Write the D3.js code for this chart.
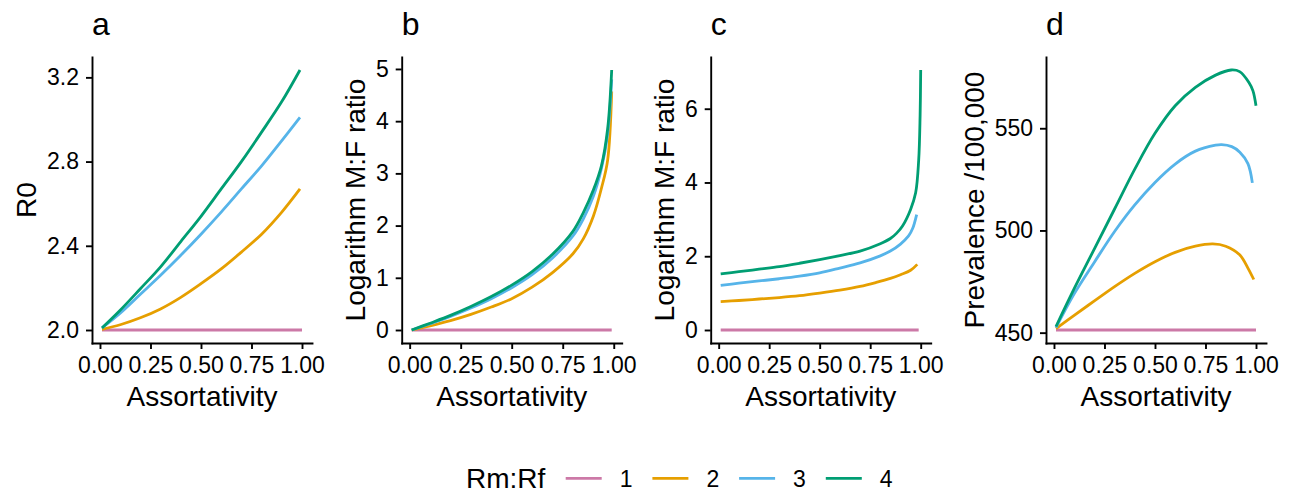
<!DOCTYPE html>
<html lang="en">
<head>
<meta charset="utf-8">
<title>Assortativity panels</title>
<style type="text/css">
  body { margin: 0; background: #fff; }
  svg text { font-family: "Liberation Sans", Arial, Helvetica, sans-serif; fill: #000; }
</style>
</head>
<body>
<svg id="chart" width="1294" height="493"></svg>

<script src="https://cdnjs.cloudflare.com/ajax/libs/d3/7.8.5/d3.min.js"></script>
<script type="text/javascript">
// legend groups and their colours
var groups = ["1", "2", "3", "4"];
var groupColors = ["#CC79A7", "#E69F00", "#56B4E9", "#009E73"];

var panelLetters = ["a", "b", "c", "d"];
var yTitles = ["R0", "Logarithm M:F ratio", "Logarithm M:F ratio", "Prevalence /100,000"];
var xTicks = [0, 0.25, 0.5, 0.75, 1];
var yTicksA = [2.0, 2.4, 2.8, 3.2];
var yTicksB = [0, 1, 2, 3, 4, 5];
var yTicksC = [0, 2, 4, 6];
var yTicksD = [450, 500, 550];

// panel a: R0 vs assortativity, [assortativity, value]
var r0_1 = [[0.01, 2.0], [1.0, 2.0]];
var r0_2 = [[0.01, 2.003], [0.1, 2.025], [0.2, 2.058], [0.3, 2.10], [0.4, 2.155], [0.5, 2.22],
            [0.6, 2.29], [0.7, 2.37], [0.8, 2.455], [0.9, 2.56], [0.99, 2.67]];
var r0_3 = [[0.01, 2.01], [0.1, 2.08], [0.2, 2.17], [0.3, 2.26], [0.4, 2.355], [0.5, 2.455],
            [0.6, 2.56], [0.7, 2.67], [0.8, 2.78], [0.9, 2.90], [0.99, 3.01]];
var r0_4 = [[0.01, 2.01], [0.1, 2.094], [0.2, 2.196], [0.3, 2.30], [0.4, 2.42], [0.5, 2.54],
            [0.6, 2.67], [0.7, 2.80], [0.8, 2.94], [0.9, 3.085], [0.99, 3.235]];

// panel b: log M:F ratio
var lrB_1 = [[0.01, 0], [0.99, 0]];
var lrB_2 = [[0.01, 0], [0.1, 0.08], [0.2, 0.18], [0.3, 0.30], [0.4, 0.44], [0.5, 0.60], [0.6, 0.82],
             [0.7, 1.10], [0.8, 1.46], [0.85, 1.74], [0.9, 2.18], [0.94, 2.72], [0.97, 3.25], [0.99, 4.57]];
var lrB_3 = [[0.01, 0], [0.1, 0.12], [0.2, 0.26], [0.3, 0.42], [0.4, 0.60], [0.5, 0.81], [0.6, 1.06],
             [0.7, 1.38], [0.8, 1.80], [0.85, 2.12], [0.9, 2.56], [0.94, 3.10], [0.97, 3.75], [0.99, 4.80]];
var lrB_4 = [[0.01, 0], [0.1, 0.13], [0.2, 0.28], [0.3, 0.45], [0.4, 0.64], [0.5, 0.86], [0.6, 1.12],
             [0.7, 1.45], [0.8, 1.89], [0.85, 2.24], [0.9, 2.68], [0.94, 3.15], [0.97, 3.85], [0.99, 4.98]];

// panel c: log M:F ratio
var lrC_1 = [[0.01, 0], [0.99, 0]];
var lrC_2 = [[0.01, 0.77], [0.1, 0.80], [0.2, 0.84], [0.3, 0.88], [0.4, 0.93], [0.5, 1.0], [0.6, 1.08],
             [0.7, 1.18], [0.78, 1.29], [0.85, 1.40], [0.9, 1.50], [0.95, 1.62], [0.983, 1.78]];
var lrC_3 = [[0.01, 1.21], [0.1, 1.27], [0.2, 1.33], [0.3, 1.39], [0.4, 1.46], [0.5, 1.55], [0.6, 1.68],
             [0.7, 1.82], [0.8, 2.01], [0.85, 2.14], [0.9, 2.33], [0.94, 2.55], [0.96, 2.75], [0.98, 3.13]];
var lrC_4 = [[0.01, 1.52], [0.1, 1.58], [0.2, 1.65], [0.3, 1.72], [0.4, 1.81], [0.5, 1.91], [0.6, 2.02],
             [0.7, 2.14], [0.8, 2.34], [0.85, 2.48], [0.88, 2.62], [0.91, 2.82], [0.95, 3.27], [0.975, 3.72],
             [0.99, 4.6], [0.997, 5.8], [1.0, 7.05]];

// panel d: prevalence per 100,000
var prev_1 = [[0.01, 451.3], [1.0, 451.3]];
var prev_2 = [[0.01, 452], [0.1, 458.5], [0.2, 465.5], [0.3, 472.5], [0.4, 479], [0.5, 484.7],
              [0.6, 489.3], [0.7, 492.3], [0.786, 493.4], [0.85, 492.3], [0.919, 488.1], [0.96, 481.6], [0.989, 476]];
var prev_3 = [[0.01, 452.5], [0.1, 469], [0.2, 484.5], [0.3, 499.5], [0.4, 512.5], [0.5, 523.5], [0.6, 532.5],
              [0.7, 538.8], [0.8, 541.7], [0.83, 542], [0.88, 541], [0.92, 538.3], [0.96, 532.7], [0.982, 523.3]];
var prev_4 = [[0.01, 453], [0.1, 471.5], [0.2, 491], [0.3, 510.5], [0.4, 530], [0.5, 547.5], [0.6, 561],
              [0.7, 570], [0.8, 576], [0.877, 578.5], [0.919, 577.7], [0.965, 572.4], [0.985, 568.3], [1.0, 561]];

var panelSeries = [
  [r0_1, r0_2, r0_3, r0_4],
  [lrB_1, lrB_2, lrB_3, lrB_4],
  [lrC_1, lrC_2, lrC_3, lrC_4],
  [prev_1, prev_2, prev_3, prev_4]
];
var panelYTicks = [yTicksA, yTicksB, yTicksC, yTicksD];
var panelYFormat = [d3.format(".1f"), d3.format("d"), d3.format("d"), d3.format("d")];

// layout
var panelLefts = [92, 401.7, 710.7, 1046];
var panelW = 220;
var plotTop = 57, plotBottom = 343;

var svg = d3.select("#chart");

// ggplot style 5% padding
function expand(ext) {
  var pad = (ext[1] - ext[0]) * 0.05;
  return [ext[0] - pad, ext[1] + pad];
}

panelSeries.forEach(function (series, p) {
  var left = panelLefts[p];
  var all = d3.merge(series);

  var x = d3.scaleLinear()
    .domain(expand(d3.extent(all, function (d) { return d[0]; })))
    .range([left, left + panelW]);
  var y = d3.scaleLinear()
    .domain(expand(d3.extent(all, function (d) { return d[1]; })))
    .range([plotBottom, plotTop]);

  var line = d3.line()
    .x(function (d) { return x(d[0]); })
    .y(function (d) { return y(d[1]); })
    .curve(d3.curveCatmullRom.alpha(0.5));

  var g = svg.append("g");

  g.selectAll("path.series")
    .data(series)
    .enter().append("path")
    .attr("class", "series")
    .attr("d", line)
    .attr("fill", "none")
    .attr("stroke", function (d, i) { return groupColors[i]; })
    .attr("stroke-width", 2.8)
    .attr("stroke-linejoin", "round");

  // axes
  var yAxis = g.append("g")
    .attr("transform", "translate(" + left + ",0)")
    .call(d3.axisLeft(y).tickValues(panelYTicks[p]).tickFormat(panelYFormat[p])
      .tickSize(6).tickSizeOuter(0).tickPadding(7));
  var xAxis = g.append("g")
    .attr("transform", "translate(0," + plotBottom + ")")
    .call(d3.axisBottom(x).tickValues(xTicks).tickFormat(d3.format(".2f"))
      .tickSize(6).tickSizeOuter(0).tickPadding(8));

  [yAxis, xAxis].forEach(function (ax) {
    ax.select(".domain").attr("stroke", "#000").attr("stroke-width", 1.9).attr("stroke-linecap", "square");
    ax.selectAll(".tick line").attr("stroke", "#000").attr("stroke-width", 1.9);
    ax.selectAll(".tick text").attr("font-size", 23).attr("fill", "#000")
      .style("font-family", "'Liberation Sans', Arial, Helvetica, sans-serif");
  });

  // y title sits left of the widest tick label
  var labelW = d3.max(yAxis.selectAll(".tick text").nodes(), function (n) { return n.getBBox().width; });
  var titleX = left - 13 - labelW - 11;
  g.append("text")
    .attr("transform", "translate(" + titleX + "," + ((plotTop + plotBottom) / 2) + ") rotate(-90)")
    .attr("text-anchor", "middle")
    .attr("font-size", 28)
    .text(yTitles[p]);

  g.append("text")
    .attr("x", left + panelW / 2)
    .attr("y", 406)
    .attr("text-anchor", "middle")
    .attr("font-size", 28)
    .text("Assortativity");

  g.append("text")
    .attr("x", left)
    .attr("y", 35)
    .attr("font-size", 32)
    .text(panelLetters[p]);
});

// legend
var legend = svg.append("g");
legend.append("text")
  .attr("x", 466)
  .attr("y", 488)
  .attr("font-size", 28)
  .text("Rm:Rf");

var keyStart = 565.7, keyStep = 86.7;
groups.forEach(function (gname, i) {
  var kx = keyStart + i * keyStep;
  legend.append("line")
    .attr("x1", kx).attr("x2", kx + 36)
    .attr("y1", 478.3).attr("y2", 478.3)
    .attr("stroke", groupColors[i])
    .attr("stroke-width", 2.8);
  legend.append("text")
    .attr("x", kx + 54)
    .attr("y", 487)
    .attr("font-size", 23)
    .text(gname);
});
</script>
</body>
</html>
